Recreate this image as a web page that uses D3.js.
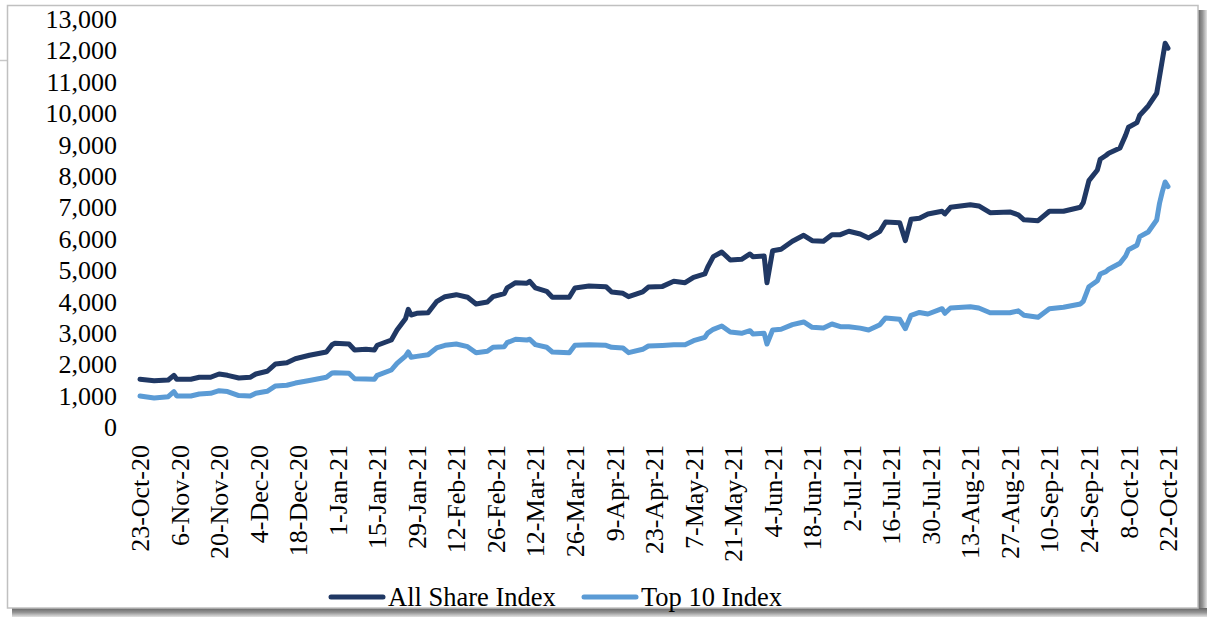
<!DOCTYPE html>
<html>
<head>
<meta charset="utf-8">
<script src="https://cdn.jsdelivr.net/npm/d3@7"></script>
<style>
  html, body { margin: 0; padding: 0; background: #ffffff; }
  svg { display: block; }
  text { font-family: "Liberation Serif", "Times New Roman", serif; fill: #000; }
</style>
</head>
<body>
<svg id="chart" width="1207" height="617"></svg>
<script>
const dates = ["23-Oct-20","28-Oct-20","2-Nov-20","4-Nov-20","5-Nov-20","10-Nov-20","13-Nov-20","17-Nov-20","20-Nov-20","23-Nov-20","27-Nov-20","1-Dec-20","3-Dec-20","7-Dec-20","10-Dec-20","14-Dec-20","17-Dec-20","22-Dec-20","28-Dec-20","30-Dec-20","31-Dec-20","5-Jan-21","7-Jan-21","11-Jan-21","14-Jan-21","15-Jan-21","20-Jan-21","22-Jan-21","25-Jan-21","26-Jan-21","27-Jan-21","29-Jan-21","2-Feb-21","5-Feb-21","8-Feb-21","12-Feb-21","16-Feb-21","19-Feb-21","23-Feb-21","25-Feb-21","1-Mar-21","2-Mar-21","5-Mar-21","9-Mar-21","10-Mar-21","12-Mar-21","16-Mar-21","18-Mar-21","24-Mar-21","26-Mar-21","31-Mar-21","6-Apr-21","8-Apr-21","12-Apr-21","14-Apr-21","19-Apr-21","21-Apr-21","26-Apr-21","30-Apr-21","4-May-21","7-May-21","11-May-21","12-May-21","14-May-21","17-May-21","20-May-21","24-May-21","27-May-21","28-May-21","1-Jun-21","2-Jun-21","4-Jun-21","7-Jun-21","11-Jun-21","15-Jun-21","18-Jun-21","22-Jun-21","25-Jun-21","28-Jun-21","1-Jul-21","5-Jul-21","8-Jul-21","12-Jul-21","14-Jul-21","19-Jul-21","21-Jul-21","23-Jul-21","26-Jul-21","29-Jul-21","3-Aug-21","4-Aug-21","6-Aug-21","13-Aug-21","16-Aug-21","20-Aug-21","27-Aug-21","30-Aug-21","1-Sep-21","6-Sep-21","10-Sep-21","15-Sep-21","21-Sep-21","22-Sep-21","24-Sep-21","27-Sep-21","28-Sep-21","30-Sep-21","1-Oct-21","5-Oct-21","7-Oct-21","8-Oct-21","11-Oct-21","12-Oct-21","15-Oct-21","18-Oct-21","19-Oct-21","20-Oct-21","21-Oct-21","22-Oct-21"];

const allShareIndex = [1520,1475,1498,1647,1520,1520,1584,1584,1689,1647,1561,1584,1689,1775,2008,2049,2176,2285,2390,2623,2667,2645,2454,2476,2454,2604,2772,3091,3450,3751,3569,3623,3642,3993,4152,4216,4133,3920,3983,4152,4250,4430,4598,4579,4643,4430,4324,4133,4133,4430,4493,4471,4302,4261,4152,4302,4460,4480,4643,4598,4770,4876,5089,5427,5577,5322,5344,5513,5427,5449,4598,5618,5663,5918,6109,5937,5918,6128,6128,6236,6150,6023,6236,6533,6511,5937,6619,6650,6788,6873,6788,7001,7084,7043,6829,6851,6760,6600,6574,6873,6873,7001,7150,7849,8190,8531,8650,8722,8891,9300,9550,9697,9933,10229,10634,11163,11695,12227,12068];

const top10Index = [988,924,966,1125,988,988,1052,1074,1157,1130,1000,988,1074,1138,1307,1329,1400,1480,1584,1720,1730,1711,1539,1530,1520,1647,1816,2030,2260,2390,2221,2250,2304,2518,2604,2645,2559,2368,2412,2540,2560,2687,2795,2772,2795,2623,2540,2390,2368,2604,2623,2604,2540,2518,2368,2476,2581,2600,2623,2623,2750,2858,2990,3113,3219,3027,2986,3069,2964,2986,2645,3091,3113,3260,3346,3177,3155,3282,3196,3196,3150,3091,3260,3474,3432,3133,3560,3650,3600,3770,3623,3792,3834,3790,3642,3642,3700,3560,3496,3770,3815,3920,4000,4471,4662,4876,4950,5026,5217,5450,5650,5790,6065,6214,6597,7129,7500,7808,7658];

const xTickLabels = ["23-Oct-20","6-Nov-20","20-Nov-20","4-Dec-20","18-Dec-20","1-Jan-21","15-Jan-21","29-Jan-21","12-Feb-21","26-Feb-21","12-Mar-21","26-Mar-21","9-Apr-21","23-Apr-21","7-May-21","21-May-21","4-Jun-21","18-Jun-21","2-Jul-21","16-Jul-21","30-Jul-21","13-Aug-21","27-Aug-21","10-Sep-21","24-Sep-21","8-Oct-21","22-Oct-21"];

const yTicks = [0,1000,2000,3000,4000,5000,6000,7000,8000,9000,10000,11000,12000,13000];

const seriesNames = ["All Share Index", "Top 10 Index"];
const seriesColors = ["#203864", "#5B9BD5"];

const parse = d3.timeParse("%d-%b-%y");
const svg = d3.select("#chart");

// frame with shadow
const defs = svg.append("defs");
const gR = defs.append("linearGradient").attr("id","shR").attr("x1","0").attr("x2","1").attr("y1","0").attr("y2","0");
gR.append("stop").attr("offset","0").attr("stop-color","#666666");
gR.append("stop").attr("offset","0.5").attr("stop-color","#959595");
gR.append("stop").attr("offset","1").attr("stop-color","#e2e2e2");
const gB = defs.append("linearGradient").attr("id","shB").attr("x1","0").attr("x2","0").attr("y1","0").attr("y2","1");
gB.append("stop").attr("offset","0").attr("stop-color","#666666");
gB.append("stop").attr("offset","0.5").attr("stop-color","#959595");
gB.append("stop").attr("offset","1").attr("stop-color","#e2e2e2");

svg.append("line").attr("x1",0).attr("x2",8).attr("y1",60.5).attr("y2",60.5).attr("stroke","#c8c8c8").attr("stroke-width",1.5);
svg.append("rect").attr("x",1198).attr("y",10).attr("width",9).attr("height",607).attr("fill","url(#shR)");
svg.append("rect").attr("x",12).attr("y",608).attr("width",1195).attr("height",9).attr("fill","url(#shB)");
svg.append("rect").attr("x",7.5).attr("y",5.5).attr("width",1190.5).attr("height",602.5)
  .attr("fill","#ffffff").attr("stroke","#c0c0c0").attr("stroke-width",1.5);

const x = d3.scaleTime()
  .domain([parse("23-Oct-20"), parse("22-Oct-21")])
  .range([140, 1168]);
const y = d3.scaleLinear().domain([0, 13000]).range([427, 19]);

// y axis labels
const fmt = d3.format(",");
svg.append("g").selectAll("text").data(yTicks).join("text")
  .attr("x", 117).attr("y", d => y(d)).attr("dy", "0.35em")
  .attr("text-anchor", "end").attr("font-size", 26)
  .text(d => fmt(d));

// x axis labels
svg.append("g").selectAll("text").data(xTickLabels).join("text")
  .attr("transform", d => `translate(${x(parse(d))},445) rotate(-90)`)
  .attr("dy", "0.35em").attr("text-anchor", "end").attr("font-size", 26)
  .text(d => d);

// lines
const pts = [allShareIndex, top10Index].map(vals => dates.map((d, i) => ({ date: parse(d), v: vals[i] })));
const line = d3.line().x(d => x(d.date)).y(d => y(d.v));
[1, 0].forEach(i => {
  svg.append("path").datum(pts[i])
    .attr("fill", "none").attr("stroke", seriesColors[i]).attr("stroke-width", 5)
    .attr("stroke-linejoin", "round").attr("stroke-linecap", "round")
    .attr("d", line);
});

// legend
const legendPos = [{ lx: 331, tx: 388 }, { lx: 584, tx: 641 }];
seriesNames.forEach((name, i) => {
  const g = svg.append("g");
  g.append("line").attr("x1", legendPos[i].lx).attr("x2", legendPos[i].lx + 52)
    .attr("y1", 597).attr("y2", 597)
    .attr("stroke", seriesColors[i]).attr("stroke-width", 5).attr("stroke-linecap", "round");
  g.append("text").attr("x", legendPos[i].tx).attr("y", 597).attr("dy", "0.35em")
    .attr("font-size", 26.5).text(name);
});
</script>
</body>
</html>
